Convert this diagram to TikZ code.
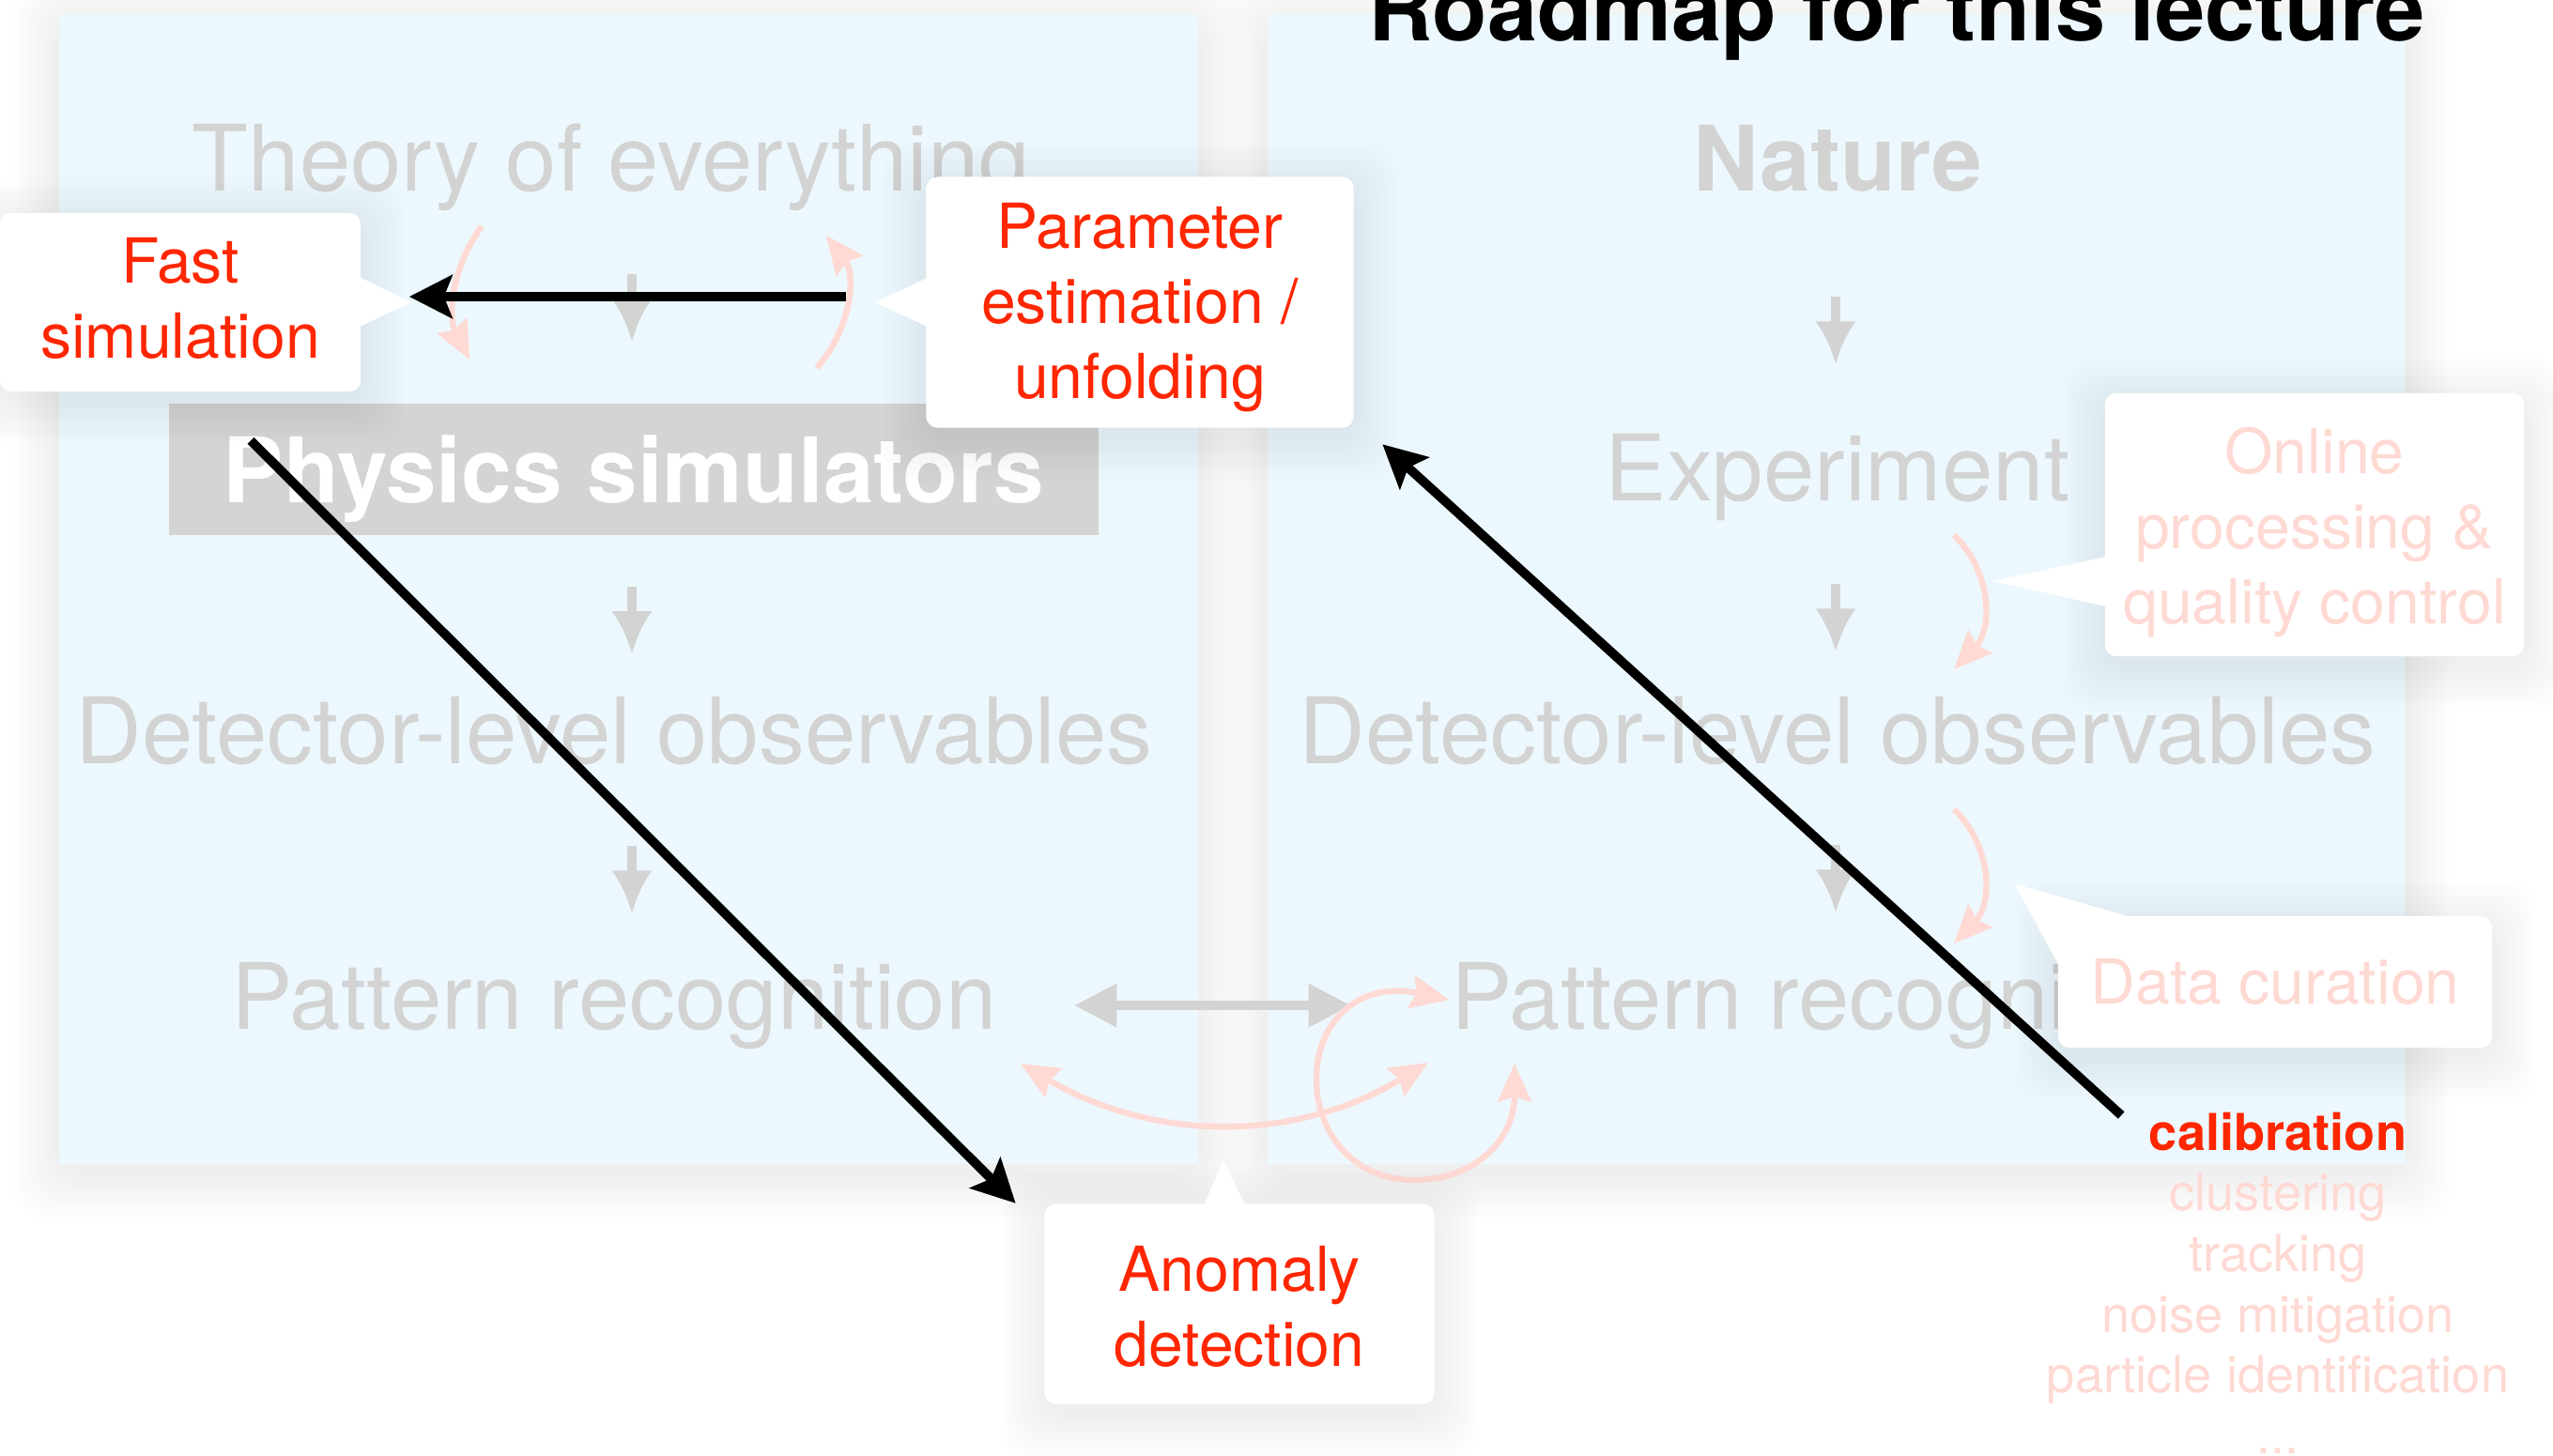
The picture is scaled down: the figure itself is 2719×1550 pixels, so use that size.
\documentclass[tikz,border=0pt]{standalone}
\usepackage{fontspec}
\setmainfont{TeX Gyre Heros}
\usepackage{xcolor}
\usepackage{tikz}
\usetikzlibrary{calc}
\usetikzlibrary{arrows.meta}
\definecolor{panelblue}{RGB}{236,248,253}
\definecolor{greytext}{RGB}{211,211,211}
\definecolor{greybox}{RGB}{212,212,212}
\definecolor{pinkish}{RGB}{255,217,211}
\definecolor{keyred}{RGB}{255,38,0}
\tikzset{>=latex}
\tikzset{
  stage/.style = {draw=none, inner sep=0, anchor=base, text=greytext, font=\fontsize{27.8}{32}\selectfont},
  bubble/.style = {fill=white, rounded corners=0.12cm, inner sep=0, align=center, text=keyred, font=\fontsize{18.8}{22.8}\selectfont},
  palebubble/.style = {bubble, text=pinkish},
  greyarr/.style = {draw=greytext, line width=3pt, -{Latex[length=13pt,width=12.5pt]}},
  greydbl/.style = {draw=greytext, line width=2.6pt, {Triangle[length=12.8pt,width=12.6pt]}-{Triangle[length=12.8pt,width=12.6pt]}},
  pinkarr/.style = {draw=pinkish, line width=1.8pt, -{Stealth[length=11.5pt,width=10pt,inset=1.5pt]}},
  pinkdbl/.style = {draw=pinkish, line width=1.8pt, {Stealth[length=11.5pt,width=10pt,inset=1.5pt]}-{Stealth[length=11.5pt,width=10pt,inset=1.5pt]}},
  blackarr/.style = {draw=black, line width=2.8pt, -{Stealth[length=13pt,width=13pt,inset=2.5pt]}}
}
% soft shadow: opacity per layer, then the box corners
\newcommand{\softshade}[5]{%
  \foreach \s in {3,6,...,48}
    \fill[black, opacity=#1, rounded corners=0.3cm] (#2-\s,#3-\s+10) rectangle (#4+\s,#5+\s+10);}

\begin{document}
\begin{tikzpicture}[x=0.01cm, y=-0.01cm]
\fill[white] (0,0) rectangle (2719,1550);
\useasboundingbox (0,0) rectangle (2719,1550);

% the two columns
\softshade{0.0035}{63}{15}{1276}{1240}
\softshade{0.0035}{1350}{15}{2562}{1240}
\fill[panelblue] (63,15) rectangle (1276,1240);
\fill[panelblue] (1350,15) rectangle (2562,1240);

\node[stage] (theory) at (651,203) {Theory of everything};
\node[draw=none, fill=greybox, text=white, inner sep=0, text depth=0pt, minimum width=9.9cm, minimum height=1.4cm, font=\bfseries\fontsize{27.4}{32}\selectfont] (phys) at (675,500) {Physics simulators};
\node[stage] (ldet) at (654,813) {Detector-level observables};
\node[stage] (lpat) at (654,1096) {Pattern recognition};

\node[stage, font=\bfseries\fontsize{27.4}{32}\selectfont] (nature) at (1957,203) {Nature};
\node[stage] (expt) at (1957,533) {Experiment};
\node[stage] (rdet) at (1957,813) {Detector-level observables};
\node[stage] (rpat) at (1953,1096) {Pattern recognition};

\draw[greyarr] ($(theory.base)+(22,89)$) -- ++(0,72);
\draw[greyarr] ($(phys.south)+(-2,54)$) -- ++(0,72);
\draw[greyarr] ($(ldet.base)+(19,88)$) -- ++(0,72);
\draw[greyarr] ($(nature.base)+(-2,113)$) -- ++(0,72);
\draw[greyarr] ($(expt.base)+(-2,89)$) -- ++(0,72);
\draw[greyarr] ($(rdet.base)+(-2,87)$) -- ++(0,72);
\draw[greydbl] ($(lpat.east)+(82,0)$) -- ($(rpat.west)+(-106,0)$);

% pale arcs
\draw[pinkarr] ($(theory.base)+(-138,38)$) .. controls +(-35,49) and +(-22,-43) .. ++(-13,142);
\draw[pinkarr] ($(theory.base)+(219,189)$) .. controls +(40,-47) and +(30,39) .. ++(10,-141);
\draw[pinkarr] ($(expt.base)+(124,37)$) .. controls +(41,40) and +(41,-43) .. ++(0,143);
\draw[pinkarr] ($(rdet.base)+(124,49)$) .. controls +(41,40) and +(41,-43) .. ++(0,143);
\draw[pinkdbl] ($(lpat.base)+(433,37)$) .. controls +(143,84) and +(-141,85) .. ++(434,-1);
\draw[pinkdbl] ($(rpat.base)+(-340,37)$) .. controls +(0,82) and +(64,0) .. ++(-107,124)
  .. controls +(-66,0) and +(0,55) .. ++(-104,-107)
  .. controls +(0,-65) and +(-93,-20) .. ++(141,-85);

% callouts
\softshade{0.005}{0}{227}{384}{417}
\node[bubble, minimum width=3.84cm, minimum height=1.9cm] (fast) at (192,322) {Fast\\simulation\rule[-2.8pt]{0pt}{0pt}};
\fill[white] (fast.east) ++(-2,-27) -- ++(55,27) -- ++(-55,26) -- cycle;
\softshade{0.005}{987}{189}{1442}{456}
\node[bubble, minimum width=4.55cm, minimum height=2.67cm] (param) at (1214,322) {\rule{0pt}{16.9pt}Parameter\\estimation /\\unfolding};
\fill[white] (param.west) ++(2,-26) -- ++(-56,26) -- ++(56,26) -- cycle;
\softshade{0.005}{2242}{419}{2688}{699}
\node[palebubble, minimum width=4.46cm, minimum height=2.8cm] (online) at (2465,559) {\rule{0pt}{18.5pt}Online\\processing \&\\quality control};
\fill[white] (online.west) ++(2,34) -- ++(-121,26) -- ++(121,27) -- cycle;
\softshade{0.005}{2192}{976}{2654}{1116}
\node[palebubble, minimum width=4.62cm, minimum height=1.4cm] (curation) at (2423,1046) {Data curation};
\fill[white] (curation.north west) ++(76,1) -- ++(-122,-35) -- ++(47,86) -- cycle;
\softshade{0.005}{1113}{1283}{1528}{1496}
\node[bubble, minimum width=4.15cm, minimum height=2.13cm] (anomaly) at (1320,1389) {\rule{0pt}{15.5pt}Anomaly\\detection};
\fill[white] (anomaly.north) ++(-38,2) -- ++(21,-48) -- ++(23,48) -- cycle;

\node[draw=none, inner sep=0, anchor=north, align=center, text=pinkish, font=\fontsize{15.4}{18.4}\selectfont] (tasks) at (2426,1184) {{\bfseries\color{keyred}calibration}\\clustering\\tracking\\noise mitigation\\particle identification\\...};

% black arrows
\draw[blackarr] ($(param.west)+(-85,-6)$) -- ($(fast.east)+(51,-6)$);
\draw[blackarr] ($(phys.north west)+(88,40)$) -- ($(anomaly.north west)+(-30,0)$);
\draw[blackarr] ($(tasks.north west)+(80,4)$) -- ($(param.south east)+(30,17)$);

\node[draw=none, inner sep=0, anchor=base, font=\bfseries\fontsize{27.2}{32}\selectfont] (title) at (2020,43) {Roadmap for this lecture};
\end{tikzpicture}
\end{document}
